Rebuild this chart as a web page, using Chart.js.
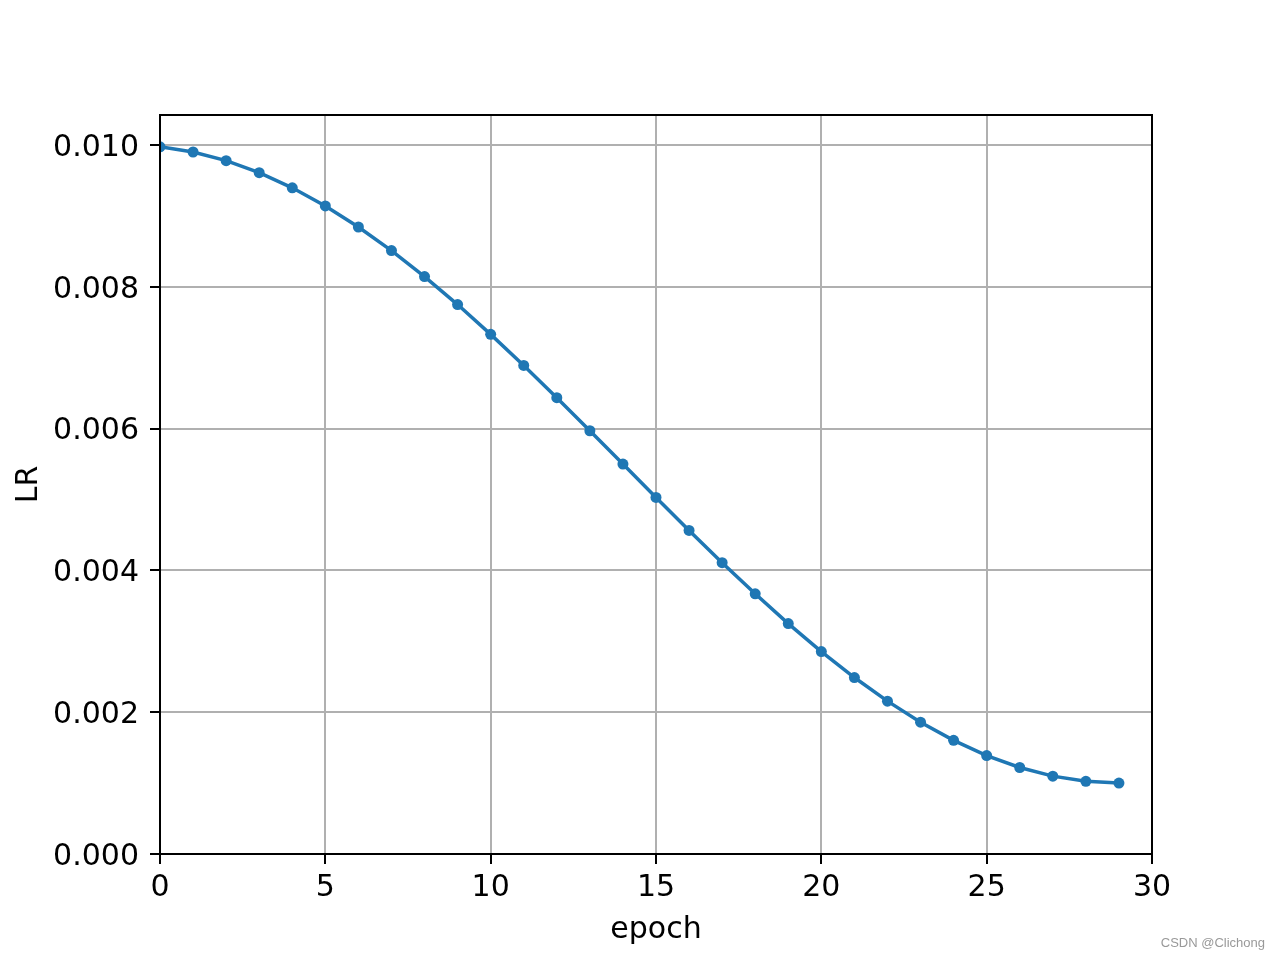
<!DOCTYPE html>
<html>
<head>
<meta charset="utf-8">
<script src="https://cdn.jsdelivr.net/npm/chart.js@4/dist/chart.umd.min.js"></script>
<style>
  html, body { margin: 0; padding: 0; background: #fff; }
  canvas { display: block; }
</style>
</head>
<body>
<canvas id="chart" width="1280" height="960"></canvas>
<script>
// Datos
const epochs = [0, 1, 2, 3, 4, 5, 6, 7, 8, 9, 10, 11, 12, 13, 14, 15, 16, 17, 18, 19, 20, 21, 22, 23, 24, 25, 26, 27, 28, 29];
const lrValues = [0.009975, 0.009902, 0.009780, 0.009611, 0.009397, 0.009141, 0.008844, 0.008511, 0.008145, 0.007750,
                  0.007330, 0.006891, 0.006436, 0.005970, 0.005500, 0.005030, 0.004564, 0.004109, 0.003670, 0.003250,
                  0.002855, 0.002489, 0.002156, 0.001859, 0.001603, 0.001389, 0.001220, 0.001098, 0.001025, 0.001000];
const xTicks = [0, 5, 10, 15, 20, 25, 30];
const yTicks = [0, 0.002, 0.004, 0.006, 0.008, 0.010];

const FONT = 'DejaVu Sans';
const FONT_SIZE = 30;

// Marco completo de los ejes + marca de agua
const framePlugin = {
  id: 'frame',
  afterDraw(chart) {
    const { ctx, chartArea: a } = chart;
    ctx.save();
    ctx.strokeStyle = '#000';
    ctx.lineWidth = 2;
    ctx.strokeRect(a.left, a.top, a.right - a.left, a.bottom - a.top);
    ctx.fillStyle = '#999';
    ctx.font = '13px "Liberation Sans", Arial, sans-serif';
    ctx.textAlign = 'right';
    ctx.textBaseline = 'middle';
    ctx.fillText('CSDN @Clichong', 1265, 943);
    ctx.restore();
  }
};

const ctx = document.getElementById('chart').getContext('2d');
const chart = new Chart(ctx, {
  type: 'line',
  data: {
    datasets: [{
      data: epochs.map((e, i) => ({ x: e, y: lrValues[i] })),
      borderColor: '#1f77b4',
      backgroundColor: '#1f77b4',
      borderWidth: 3.5,
      pointRadius: 5.5,
      pointBorderWidth: 0,
      pointBackgroundColor: '#1f77b4',
      tension: 0,
      fill: false,
      clip: 0
    }]
  },
  options: {
    responsive: false,
    animation: false,
    layout: { padding: { left: 0, top: 115, right: 128, bottom: 0 } },
    plugins: { legend: { display: false }, tooltip: { enabled: false } },
    scales: {
      x: {
        type: 'linear',
        min: 0,
        max: 30,
        afterBuildTicks: s => { s.ticks = xTicks.map(v => ({ value: v })); },
        afterFit: s => { s.height = 106; },
        grid: { color: '#b0b0b0', lineWidth: 2, tickColor: '#000', tickWidth: 2, tickLength: 10 },
        border: { color: '#000', width: 2 },
        ticks: { color: '#000', font: { family: FONT, size: FONT_SIZE }, padding: 6, maxRotation: 0 },
        title: { display: true, text: 'epoch', color: '#000', font: { family: FONT, size: FONT_SIZE }, padding: { top: 0, bottom: 12 } }
      },
      y: {
        type: 'linear',
        min: 0,
        max: 0.010424,
        afterBuildTicks: s => { s.ticks = yTicks.map(v => ({ value: v })); },
        afterFit: s => { s.width = 160; },
        grid: { color: '#b0b0b0', lineWidth: 2, tickColor: '#000', tickWidth: 2, tickLength: 10 },
        border: { color: '#000', width: 2 },
        ticks: { color: '#000', font: { family: FONT, size: FONT_SIZE }, padding: 11, labelOffset: 3, callback: v => v.toFixed(3) },
        title: { display: true, text: 'LR', color: '#000', font: { family: FONT, size: FONT_SIZE }, padding: { top: 11, bottom: 0 } }
      }
    }
  },
  plugins: [framePlugin]
});
</script>
</body>
</html>
